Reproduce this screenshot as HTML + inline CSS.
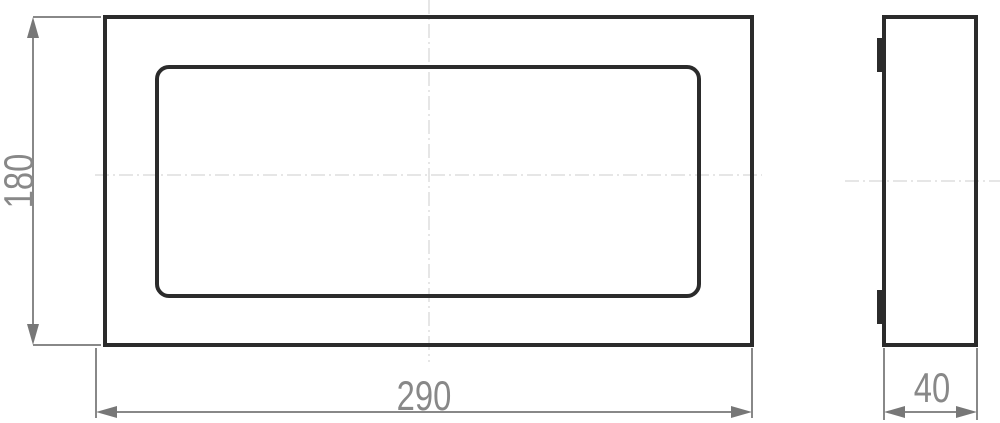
<!DOCTYPE html>
<html><head><style>body{margin:0;background:#fff}svg{display:block}</style></head><body>
<svg width="1000" height="423" viewBox="0 0 1000 423" xmlns="http://www.w3.org/2000/svg">
<g stroke="#ccc" stroke-width="1" stroke-dasharray="14,4,2,4" fill="none">
<line x1="429" y1="0" x2="429" y2="362"/>
<line x1="95" y1="175" x2="762" y2="175"/>
<line x1="845" y1="181" x2="1000" y2="181"/>
</g>
<rect x="105" y="17" width="647" height="328" fill="none" stroke="#2b2b2b" stroke-width="4"/>
<rect x="157" y="67" width="542" height="229" rx="12" fill="none" stroke="#2b2b2b" stroke-width="4"/>
<rect x="884" y="17" width="92" height="328" fill="none" stroke="#2b2b2b" stroke-width="4"/>
<rect x="877" y="38" width="5" height="34" fill="#2b2b2b"/>
<rect x="877" y="290" width="5" height="34" fill="#2b2b2b"/>
<g stroke="#888" stroke-width="2" fill="none">
<line x1="33" y1="17" x2="101" y2="17"/>
<line x1="33" y1="345" x2="101" y2="345"/>
<line x1="33" y1="30" x2="33" y2="332"/>
<line x1="96" y1="348" x2="96" y2="418"/>
<line x1="752" y1="348" x2="752" y2="418"/>
<line x1="109" y1="412" x2="739" y2="412"/>
<line x1="884" y1="348" x2="884" y2="420"/>
<line x1="977" y1="348" x2="977" y2="420"/>
<line x1="897" y1="412" x2="964" y2="412"/>
</g>
<g fill="#777">
<polygon points="33,17 27,38 39,38"/>
<polygon points="33,345 27,324 39,324"/>
<polygon points="96,412 117,406 117,418"/>
<polygon points="752,412 731,406 731,418"/>
<polygon points="884,412 905,406 905,418"/>
<polygon points="977,412 956,406 956,418"/>
</g>
<g fill="#888" font-family="Liberation Sans, sans-serif" font-size="42" text-anchor="middle">
<text transform="translate(424,410) scale(0.78,1)">290</text>
<text transform="translate(932,402) scale(0.78,1)">40</text>
<text transform="translate(33,181) rotate(-90) scale(0.78,1)">180</text>
</g>
</svg>
</body></html>
